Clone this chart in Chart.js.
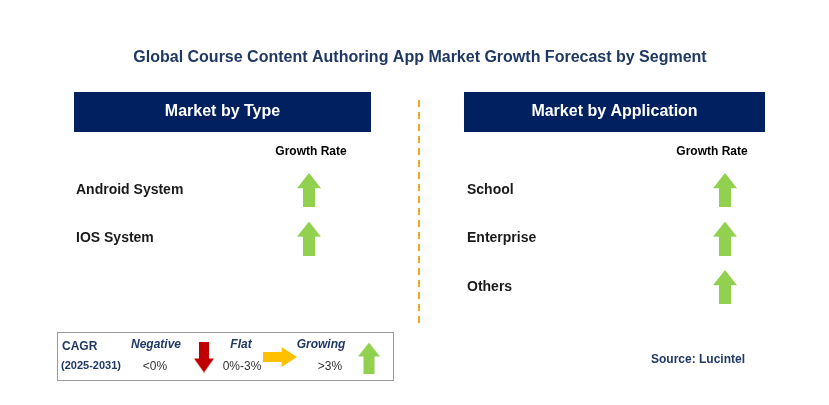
<!DOCTYPE html>
<html><head><meta charset="utf-8">
<script src="https://cdn.jsdelivr.net/npm/chart.js@4/dist/chart.umd.min.js"></script>
<style>html,body{margin:0;padding:0;background:#fff}#w{width:829px;height:405px}</style>
</head><body><div id="w"><canvas id="c"></canvas></div>
<script>
const title = "Global Course Content Authoring App Market Growth Forecast by Segment";
const typeCategories = ["Android System", "IOS System"];
const typeGrowth = ["up", "up"];
const appCategories = ["School", "Enterprise", "Others"];
const appGrowth = ["up", "up", "up"];
const panelTitles = ["Market by Type", "Market by Application"];
const NAVY = "#002060", GREEN = "#92D050";

function arrowCanvas(dir, color, w, h) {
  const c = document.createElement('canvas'); c.width = w; c.height = h;
  const g = c.getContext('2d'); g.fillStyle = color; g.beginPath();
  if (dir === 'up') {
    const hh = h * 0.45, sw = w * 0.25;
    g.moveTo(w/2, 0); g.lineTo(w, hh); g.lineTo(w/2+sw, hh); g.lineTo(w/2+sw, h);
    g.lineTo(w/2-sw, h); g.lineTo(w/2-sw, hh); g.lineTo(0, hh);
  } else if (dir === 'down') {
    const hh = h * 0.55, sw = w * 0.25;
    g.moveTo(w/2-sw, 0); g.lineTo(w/2+sw, 0); g.lineTo(w/2+sw, hh); g.lineTo(w, hh);
    g.lineTo(w/2, h); g.lineTo(0, hh); g.lineTo(w/2-sw, hh);
  } else {
    const hw = w * 0.55, sh = h * 0.25;
    g.moveTo(0, h/2-sh); g.lineTo(hw, h/2-sh); g.lineTo(hw, 0); g.lineTo(w, h/2);
    g.lineTo(hw, h); g.lineTo(hw, h/2+sh); g.lineTo(0, h/2+sh);
  }
  g.closePath(); g.fill(); return c;
}
const upBig = arrowCanvas('up', GREEN, 24, 34);
const upLeg = arrowCanvas('up', GREEN, 22, 31);
const downLeg = arrowCanvas('down', '#C00000', 20, 31);
const rightLeg = arrowCanvas('right', '#FFC000', 34, 20);

const rowY = i => 190 + i * 48.5;
const typePts = typeCategories.map((c, i) => ({x: 309, y: rowY(i), label: c}));
const appPts = appCategories.map((c, i) => ({x: 725, y: rowY(i), label: c}));

const deco = {
  id: 'deco',
  beforeDatasetsDraw(ch) {
    const g = ch.ctx, X = ch.scales.x, Y = ch.scales.y;
    const px = v => X.getPixelForValue(v), py = v => Y.getPixelForValue(v);
    g.save();
    g.textBaseline = 'middle';
    g.fillStyle = '#1F3864'; g.font = 'bold 16px Arial, "Liberation Sans"'; g.textAlign = 'center';
    g.fillText(title, px(420), py(58));
    [[74, 371], [464, 765]].forEach(([a, b], i) => {
      g.fillStyle = NAVY; g.fillRect(px(a), py(92), px(b) - px(a), py(132) - py(92));
      g.fillStyle = '#fff'; g.font = 'bold 16px Arial, "Liberation Sans"';
      g.fillText(panelTitles[i], px((a + b) / 2), py(112));
    });
    g.fillStyle = '#000'; g.font = 'bold 12px Arial, "Liberation Sans"';
    g.fillText('Growth Rate', px(311), py(152)); g.fillText('Growth Rate', px(712), py(152));
    g.textAlign = 'left'; g.font = 'bold 14px Arial, "Liberation Sans"'; g.fillStyle = '#1a1a1a';
    typePts.forEach(p => g.fillText(p.label, px(76), py(p.y)));
    appPts.forEach(p => g.fillText(p.label, px(467), py(p.y)));
    g.strokeStyle = '#F5A623'; g.lineWidth = 2; g.setLineDash([7, 5]);
    g.beginPath(); g.moveTo(px(419), py(100)); g.lineTo(px(419), py(324)); g.stroke();
    g.setLineDash([]);
    g.strokeStyle = '#999'; g.lineWidth = 1; g.strokeRect(px(57) + .5, py(332) + .5, 336, 48);
    g.fillStyle = '#1F3864'; g.font = 'bold 12px Arial, "Liberation Sans"';
    g.fillText('CAGR', px(62), py(347));
    g.font = 'bold 11px Arial, "Liberation Sans"'; g.fillText('(2025-2031)', px(61), py(366));
    g.font = 'italic bold 12px Arial, "Liberation Sans"'; g.textAlign = 'center';
    g.fillText('Negative', px(156), py(345)); g.fillText('Flat', px(241), py(345)); g.fillText('Growing', px(321), py(345));
    g.font = '12px Arial, "Liberation Sans"'; g.fillStyle = '#333';
    g.fillText('<0%', px(155), py(367)); g.fillText('0%-3%', px(242), py(367)); g.fillText('>3%', px(330), py(367));
    g.fillStyle = '#1F3864'; g.font = 'bold 12px Arial, "Liberation Sans"'; g.textAlign = 'left';
    g.fillText('Source: Lucintel', px(651), py(360));
    g.restore();
  }
};

new Chart(document.getElementById('c'), {
  type: 'scatter',
  data: { datasets: [
    { data: typePts, pointStyle: typeGrowth.map(() => upBig), pointRadius: 17 },
    { data: appPts, pointStyle: appGrowth.map(() => upBig), pointRadius: 17 },
    { data: [{x: 204, y: 357}], pointStyle: downLeg },
    { data: [{x: 280, y: 357}], pointStyle: rightLeg },
    { data: [{x: 369, y: 358}], pointStyle: upLeg }
  ]},
  options: {
    responsive: true, maintainAspectRatio: false, animation: false, devicePixelRatio: 1,
    layout: { padding: 0, autoPadding: false },
    plugins: { legend: { display: false }, tooltip: { enabled: false } },
    events: [],
    scales: {
      x: { display: false, min: 0, max: 829 },
      y: { display: false, min: 0, max: 405, reverse: true }
    }
  },
  plugins: [deco]
});
</script></body></html>
